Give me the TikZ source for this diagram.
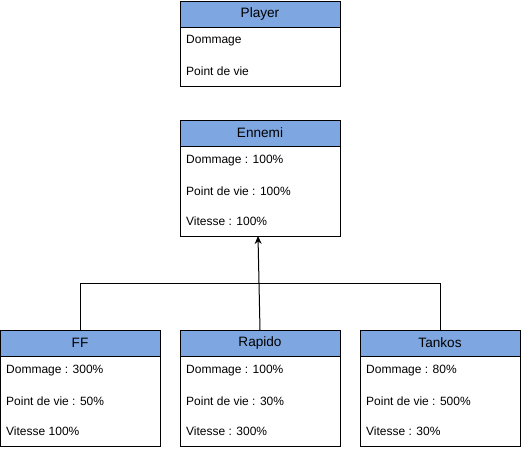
\documentclass[tikz,border=0pt]{standalone}
\usepackage{fontspec}
\setmainfont{Liberation Sans}
\usetikzlibrary{arrows.meta}
\definecolor{hdr}{HTML}{7EA6E0}
\begin{document}
\begin{tikzpicture}[x=1pt,y=-1pt,
  font=\fontsize{12}{14}\selectfont,
  head/.style={draw=black,fill=hdr,line width=1pt,minimum width=160pt,minimum height=26pt,
    anchor=north west,inner sep=0pt,outer sep=0pt,font=\fontsize{13.6}{16}\selectfont},
  body/.style={draw=black,fill=white,line width=1pt,minimum width=160pt,
    anchor=north west,inner sep=0pt,outer sep=0pt},
  attr/.style={anchor=west,inner sep=0pt},
  link/.style={draw=black,line width=1pt}]
\useasboundingbox (0,0) rectangle (521,450);

% Player class
\node[body,minimum height=60pt] (pb) at (180,26) {};
\node[head] (ph) at (180,1) {Player};
\node[attr] (p1) at (186,41) {Dommage};
\node[attr] (p2) at (186,71) {Point de vie};

% Ennemi class
\node[body,minimum height=90pt] (eb) at (180,146) {};
\node[head] (eh) at (180,120) {Ennemi};
\node[attr] (e1) at (186,161) {Dommage : 100\%};
\node[attr] (e2) at (186,191) {Point de vie : 100\%};
\node[attr] (e3) at (186,221) {Vitesse : 100\%};

% FF class
\node[body,minimum height=90pt] (fb) at (0,356) {};
\node[head] (fh) at (0,330) {FF};
\node[attr] (f1) at (6,371) {Dommage : 300\%};
\node[attr] (f2) at (6,401) {Point de vie : 50\%};
\node[attr] (f3) at (6,431) {Vitesse 100\%};

% Rapido class
\node[body,minimum height=90pt] (rb) at (180,356) {};
\node[head] (rh) at (180,330) {Rapido};
\node[attr] (r1) at (186,371) {Dommage : 100\%};
\node[attr] (r2) at (186,401) {Point de vie : 30\%};
\node[attr] (r3) at (186,431) {Vitesse : 300\%};

% Tankos class
\node[body,minimum height=90pt] (tb) at (360,356) {};
\node[head] (th) at (360,330) {Tankos};
\node[attr] (t1) at (366,371) {Dommage : 80\%};
\node[attr] (t2) at (366,401) {Point de vie : 500\%};
\node[attr] (t3) at (366,431) {Vitesse : 30\%};

% Inheritance connectors
\coordinate (j) at (259,283);
\draw[link] (fh.north) |- (j);
\draw[link] (th.north) |- (j);
\draw[link,-{Stealth[length=8pt,width=7pt]}] (rh.north) -- ([xshift=-2pt]eb.south);
\end{tikzpicture}
\end{document}
